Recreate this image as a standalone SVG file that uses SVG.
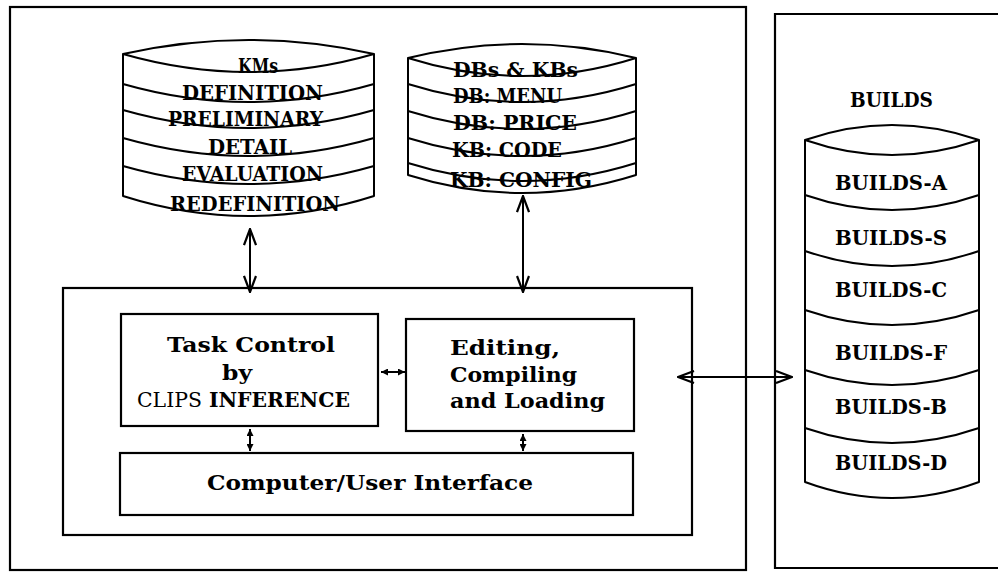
<svg xmlns="http://www.w3.org/2000/svg" width="998" height="573" viewBox="0 0 998 573">
  <style>
    .frame { fill: none; stroke: #000; stroke-width: 2.2; }
    .cyl { fill: #fff; stroke: #000; stroke-width: 2; stroke-linejoin: round; }
    .sep { fill: none; stroke: #000; stroke-width: 2; }
    .lbl { font-family: "DejaVu Serif", "Liberation Serif", serif; font-weight: bold; font-size: 20px; fill: #000; }
    .mid { text-anchor: middle; }
    .thin { font-weight: normal; }
    .conn { fill: none; stroke: #000; stroke-width: 2; }
  </style>
  <defs>
    <marker id="open-head" viewBox="0 0 18 14" refX="17" refY="7" markerWidth="18" markerHeight="14" markerUnits="userSpaceOnUse" orient="auto-start-reverse">
      <path d="M1,1 L17,7 L1,13" fill="none" stroke="#000" stroke-width="2.2"/>
    </marker>
    <marker id="small-head" viewBox="0 0 7 7" refX="7" refY="3.5" markerWidth="7" markerHeight="7" markerUnits="userSpaceOnUse" orient="auto-start-reverse">
      <path d="M0,0 L7,3.5 L0,7 Z" fill="#000"/>
    </marker>
  </defs>

  <rect width="998" height="573" fill="#fff"/>

  <!-- enclosing frames -->
  <g id="system-frame">
    <rect class="frame" x="10" y="7" width="736" height="563"/>
  </g>
  <g id="builds-frame">
    <path class="frame" d="M1000,14 L775,14 L775,568 L1000,568"/>
    <text class="lbl mid" x="891.5" y="107" textLength="83" lengthAdjust="spacingAndGlyphs">BUILDS</text>
  </g>

  <!-- knowledge modules store -->
  <g id="kms">
    <path class="cyl" d="M123,54 Q249,26 374,54 L374,196 Q249,236 123,196 Z"/>
    <path class="sep" d="M123,54 Q249,90 374,54 M123,84 Q249,120 374,84 M123,110 Q249,146 374,110 M123,138 Q249,174 374,138 M123,166 Q249,202 374,166"/>
    <text class="lbl mid" x="258" y="73" textLength="40" lengthAdjust="spacingAndGlyphs">KMs</text>
    <text class="lbl mid" x="252.5" y="100" textLength="141" lengthAdjust="spacingAndGlyphs">DEFINITION</text>
    <text class="lbl mid" x="245.5" y="126" textLength="155" lengthAdjust="spacingAndGlyphs">PRELIMINARY</text>
    <text class="lbl mid" x="250" y="154" textLength="84" lengthAdjust="spacingAndGlyphs">DETAIL</text>
    <text class="lbl mid" x="252.5" y="181" textLength="141" lengthAdjust="spacingAndGlyphs">EVALUATION</text>
    <text class="lbl mid" x="255" y="211" textLength="170" lengthAdjust="spacingAndGlyphs">REDEFINITION</text>
  </g>

  <!-- databases and knowledge bases -->
  <g id="dbs-kbs">
    <path class="cyl" d="M408,58 Q522,30 636,58 L636,175 Q522,211 408,175 Z"/>
    <path class="sep" d="M408,58 Q522,94 636,58 M408,84 Q522,120 636,84 M408,111 Q522,147 636,111 M408,138 Q522,174 636,138 M408,163 Q522,199 636,163"/>
    <text class="lbl" x="453" y="77" textLength="125" lengthAdjust="spacingAndGlyphs">DBs &amp; KBs</text>
    <text class="lbl" x="453" y="103" textLength="109" lengthAdjust="spacingAndGlyphs">DB: MENU</text>
    <text class="lbl" x="453" y="130" textLength="124" lengthAdjust="spacingAndGlyphs">DB: PRICE</text>
    <text class="lbl" x="452" y="157" textLength="110" lengthAdjust="spacingAndGlyphs">KB: CODE</text>
    <text class="lbl" x="450" y="187" textLength="142" lengthAdjust="spacingAndGlyphs">KB: CONFIG</text>
  </g>

  <!-- builds store -->
  <g id="builds">
    <path class="cyl" d="M805,140 Q892,110 979,140 L979,482 Q892,514 805,482 Z"/>
    <path class="sep" d="M805,140 Q892,170 979,140 M805,195 Q892,225 979,195 M805,251 Q892,281 979,251 M805,310 Q892,340 979,310 M805,370 Q892,400 979,370 M805,428 Q892,458 979,428"/>
    <text class="lbl mid" x="891" y="190" textLength="112" lengthAdjust="spacingAndGlyphs">BUILDS-A</text>
    <text class="lbl mid" x="891" y="245" textLength="112" lengthAdjust="spacingAndGlyphs">BUILDS-S</text>
    <text class="lbl mid" x="891" y="297" textLength="112" lengthAdjust="spacingAndGlyphs">BUILDS-C</text>
    <text class="lbl mid" x="891" y="360" textLength="112" lengthAdjust="spacingAndGlyphs">BUILDS-F</text>
    <text class="lbl mid" x="891" y="414" textLength="112" lengthAdjust="spacingAndGlyphs">BUILDS-B</text>
    <text class="lbl mid" x="891" y="470" textLength="112" lengthAdjust="spacingAndGlyphs">BUILDS-D</text>
  </g>

  <!-- environment shell -->
  <g id="shell">
    <rect class="frame" x="63" y="288" width="629" height="247"/>
  </g>
  <g id="task-control">
    <rect class="frame" x="121" y="314" width="257" height="112"/>
    <text class="lbl mid" x="251" y="352" textLength="168" lengthAdjust="spacingAndGlyphs">Task Control</text>
    <text class="lbl" x="222" y="380" textLength="30" lengthAdjust="spacingAndGlyphs">by</text>
    <text class="lbl mid" x="243.5" y="407" textLength="213" lengthAdjust="spacingAndGlyphs"><tspan class="thin">CLIPS</tspan> INFERENCE</text>
  </g>
  <g id="editing">
    <rect class="frame" x="406" y="319" width="228" height="112"/>
    <text class="lbl" x="450" y="355" textLength="110" lengthAdjust="spacingAndGlyphs">Editing,</text>
    <text class="lbl" x="450" y="382" textLength="127" lengthAdjust="spacingAndGlyphs">Compiling</text>
    <text class="lbl" x="450" y="408" textLength="155" lengthAdjust="spacingAndGlyphs">and Loading</text>
  </g>
  <g id="interface">
    <rect class="frame" x="120" y="453" width="513" height="62"/>
    <text class="lbl mid" x="370" y="490" textLength="326" lengthAdjust="spacingAndGlyphs">Computer/User Interface</text>
  </g>

  <!-- connectors -->
  <g id="connectors">
    <line class="conn" x1="250" y1="229" x2="250" y2="292" marker-start="url(#open-head)" marker-end="url(#open-head)"/>
    <line class="conn" x1="523" y1="196" x2="523" y2="292" marker-start="url(#open-head)" marker-end="url(#open-head)"/>
    <line class="conn" x1="678" y1="377" x2="792" y2="377" marker-start="url(#open-head)" marker-end="url(#open-head)"/>
    <line class="conn" x1="381" y1="372" x2="405" y2="372" marker-start="url(#small-head)" marker-end="url(#small-head)"/>
    <line class="conn" x1="250" y1="429" x2="250" y2="451" marker-start="url(#small-head)" marker-end="url(#small-head)"/>
    <line class="conn" x1="523" y1="434" x2="523" y2="451" marker-start="url(#small-head)" marker-end="url(#small-head)"/>
  </g>
</svg>
